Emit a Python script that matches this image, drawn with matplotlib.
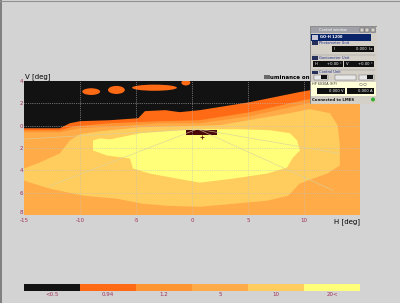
import numpy as np
import matplotlib.pyplot as plt
from matplotlib.patches import Rectangle, Ellipse, Circle

# zone legend
levels = ['<0.5', '0.94', '1.2', '5', '10', '20<']
colors = ['#121212', '#ff6a14', '#ff9433', '#ffac48', '#ffcd5e', '#ffff7a']

# upper edge of each zone (H deg, V deg)
cut_h = [-15, -11.8, -10.9, -10, -7.3, -4.8, -4.2, -2.4, -1.1, 0.7, 5.2, 9.6, 13.2, 15]
cut_v = [-0.23, -0.23, 0.22, 0.40, 0.49, 0.67, 1.30, 1.39, 1.21, 1.39, 2.11, 3.01, 3.64, 3.91]

z2_h = [-15, -11.8, -10.45, -7.3, -2.9, 0.7, 5.2, 9.6, 13.2, 15]
z2_v = [-0.41, -0.41, -0.05, 0.22, 0.40, 0.49, 1.21, 2.20, 2.92, 3.19]

z3_h = [-15, -11.8, -10, -6.4, -2.9, 0.7, 5.2, 9.6, 13.2, 15]
z3_v = [-0.59, -0.59, -0.23, -0.05, 0.22, 0.22, 0.85, 1.84, 2.56, 2.83]

# closed outlines of the two brightest zones
z4_h = [-15, -13.6, -11.8, -10.9, -10, -8.2, -4.6, -1.1, 2.5, 6.1, 8.75, 10.5, 12.3, 13.0,
        13.2, 13.2, 12.05, 9.6, 8.6, 6.7, 3.7, 0.7, -2.2, -4.4, -6.7, -9.7, -12.7, -15]
z4_v = [-3.84, -3.30, -2.49, -1.32, -0.77, -0.50, -0.14, -0.05, 0.04, 0.67, 1.12, 1.48, 1.12, 0.04,
        -1.77, -3.57, -4.29, -5.19, -6.27, -6.72, -6.99, -7.26, -7.17, -6.99, -6.54, -6.27, -5.64, -4.92]

z5_h = [-8.84, -8.21, -7.32, -4.64, -1.07, 0.71, 4.29, 6.96, 8.75, 9.38, 9.64, 9.02, 8.48,
        6.70, 3.66, 0.71, -1.34, -3.75, -5.27, -5.54, -7.59, -8.84]
z5_v = [-1.32, -1.14, -1.23, -0.68, -0.41, -0.32, -0.32, -0.41, -0.68, -1.32, -2.22, -2.85, -3.75,
        -4.29, -4.74, -5.10, -4.74, -4.29, -3.84, -2.94, -2.67, -2.22]

# small lit islands above the cut-off
blob_h = [-9.0, -6.75, -3.35, -0.55]
blob_v = [3.05, 3.2, 3.4, 3.85]
blob_w = [1.6, 1.5, 4.0, 0.8]
blob_ht = [0.6, 0.72, 0.55, 0.5]

xticks = [-15, -10, -5, 0, 5, 10]
yticks = [4, 2, 0, -2, -4, -6, -8]
ylabels = ['4', '2', '0', '2', '4', '6', '8']

bg = '#d3d3d3'
tick_col = '#a0305a'

fig = plt.figure(figsize=(4, 3.03), dpi=100, facecolor=bg)

ax = fig.add_axes([24/400, 1-215/303, 336/400, 134/303])
ax.set_xlim(-15, 15)
ax.set_ylim(-8, 4)
ax.set_facecolor(colors[0])

for (hh, vv), c in zip([(cut_h, cut_v), (z2_h, z2_v), (z3_h, z3_v)], colors[1:4]):
    ax.fill(hh + [15, -15], vv + [-8, -8], color=c, lw=0)
ax.fill(z4_h, z4_v, color=colors[4], lw=0)
ax.fill(z5_h, z5_v, color=colors[5], lw=0)
for h, v, w, t in zip(blob_h, blob_v, blob_w, blob_ht):
    ax.add_patch(Ellipse((h, v), w, t, color=colors[1], lw=0))

# measuring grid
for x in [-10, -5, 0, 5, 10]:
    ax.axvline(x, color='#c0c0c0', lw=0.5, ls=':')
for y in [2, 0, -2, -4, -6]:
    ax.axhline(y, color='#c0c0c0', lw=0.5, ls=':')
for h2, v2 in [(-12.7, -5.4), (12.6, -5.8), (13.2, -2.5), (-15, -1.2)]:
    ax.plot([0.5, h2], [-0.3, v2], color='#d8d0a0', lw=0.5, alpha=0.8)

# point label at centre
ax.add_patch(Rectangle((-0.54, -0.86), 2.77, 0.45, color='#4a0808', lw=0))
ax.plot(0.9, -1.05, marker='+', color='#6a1010', ms=3, mew=0.6)

ax.set_xticks(xticks)
ax.set_xticklabels([str(t) for t in xticks])
ax.set_yticks(yticks)
ax.set_yticklabels(ylabels)
ax.tick_params(length=0, labelsize=4, labelcolor=tick_col)
ax.tick_params(axis='x', pad=2)
ax.tick_params(axis='y', pad=0.5)
ax.get_yticklabels()[-1].set_va('bottom')
for s in ax.spines.values():
    s.set_visible(False)

fig.text(25/400, 1-80/303, 'V [deg]', fontsize=5, va='bottom')
fig.text(264/400, 1-77/303, 'Illuminance on te', fontsize=4, fontweight='bold', va='center')
fig.text(360/400, 1-222/303, 'H [deg]', fontsize=5, ha='right', va='center')

# colour scale bar
cax = fig.add_axes([24/400, 1-291/303, 336/400, 7/303])
cax.bar(range(len(levels)), [1]*len(levels), width=1, color=colors)
cax.set_xlim(-0.5, len(levels) - 0.5)
cax.set_ylim(0, 1)
cax.set_yticks([])
cax.set_xticks(range(len(levels)))
cax.set_xticklabels(levels)
cax.tick_params(length=0, labelsize=4, labelcolor=tick_col, pad=1)
for s in cax.spines.values():
    s.set_visible(False)

# screen border
fig.add_artist(plt.Line2D([0.002, 0.002], [0, 1], color='#707070', lw=1.2))
fig.add_artist(plt.Line2D([0, 1], [0.998, 0.998], color='#909090', lw=0.8))

# control window overlay (pixel units)
wax = fig.add_axes([310/400, 1-104/303, 67/400, 78/303], zorder=10)
wax.set_xlim(0, 67)
wax.set_ylim(78, 0)
wax.axis('off')
wax.add_patch(Rectangle((0, 0), 67, 78, facecolor='#d4d0c8', edgecolor='#808080', lw=0.6))
wax.add_patch(Rectangle((1, 1), 65, 6, color='#a0a0a8', lw=0))
wax.text(9, 4, 'Control window', fontsize=2.5, color='white', va='center')
for bx in [50, 55, 61]:
    wax.add_patch(Rectangle((bx, 2), 4, 4, facecolor='#d4d0c8', edgecolor='#404040', lw=0.3))
wax.add_patch(Rectangle((1, 8), 60, 6.5, color='#0a246a', lw=0))
wax.add_patch(Rectangle((2, 9), 6, 4.5, color='#c8c8d8', lw=0))
wax.text(10, 11.3, 'GO-H 1200', fontsize=2.7, color='white', fontweight='bold', va='center')

def section(y, title):
    wax.add_patch(Rectangle((2, y - 1.8), 6, 3.6, color='#24305a', lw=0))
    wax.text(9, y, title, fontsize=2.6, color='#1a2a8a', va='center')

def field(x0, x1, y, left, right):
    wax.add_patch(Rectangle((x0, y - 3), x1 - x0, 6, color='#101010', lw=0))
    if left:
        wax.text(x0 + 1.5, y, left, fontsize=2.7, color='white', va='center')
    wax.text(x1 - 1.5, y, right, fontsize=2.7, color='white', va='center', ha='right')

section(17, 'Photometer Unit')
field(22, 64, 23, 'I', '0.000  lx')
wax.plot([2, 65], [29, 29], color='#909090', lw=0.3)
section(32, 'Goniometer Unit')
field(3, 33, 38, 'H', '+0.00 °')
field(34, 64, 38, 'V', '+0.00 °')
wax.plot([2, 65], [44, 44], color='#909090', lw=0.3)
section(46.5, 'Control Unit')
wax.add_patch(Rectangle((4, 49), 14, 5, facecolor='#e8e8e8', edgecolor='#606060', lw=0.3))
wax.add_patch(Rectangle((11, 49.5), 6, 4, color='#101010', lw=0))
wax.add_patch(Rectangle((25, 49), 21, 5, facecolor='#e8e8e8', edgecolor='#606060', lw=0.3))
wax.add_patch(Rectangle((49, 49), 15, 5, facecolor='#e8e8e8', edgecolor='#606060', lw=0.3))
wax.add_patch(Rectangle((57, 49.5), 6, 4, color='#101010', lw=0))
wax.add_patch(Rectangle((1, 56), 65, 14, color='#ffffd8', lw=0))
wax.text(2, 58.5, 'HP 6030A (HP)', fontsize=2.4, color='#303030', va='center')
wax.add_patch(Circle((51, 58.5), 1.3, facecolor='none', edgecolor='#606060', lw=0.3))
wax.add_patch(Circle((55, 58.5), 1.3, facecolor='none', edgecolor='#606060', lw=0.3))
field(7, 35, 65, '', '0.000 V')
field(37, 64, 65, '', '0.000 A')
wax.text(2, 74, 'Connected to LMES', fontsize=2.8, color='#101010', fontweight='bold', va='center')
wax.add_patch(Circle((63, 73.5), 2, color='#30b030', lw=0))

fig.savefig('out.png', dpi=100, facecolor=bg)
